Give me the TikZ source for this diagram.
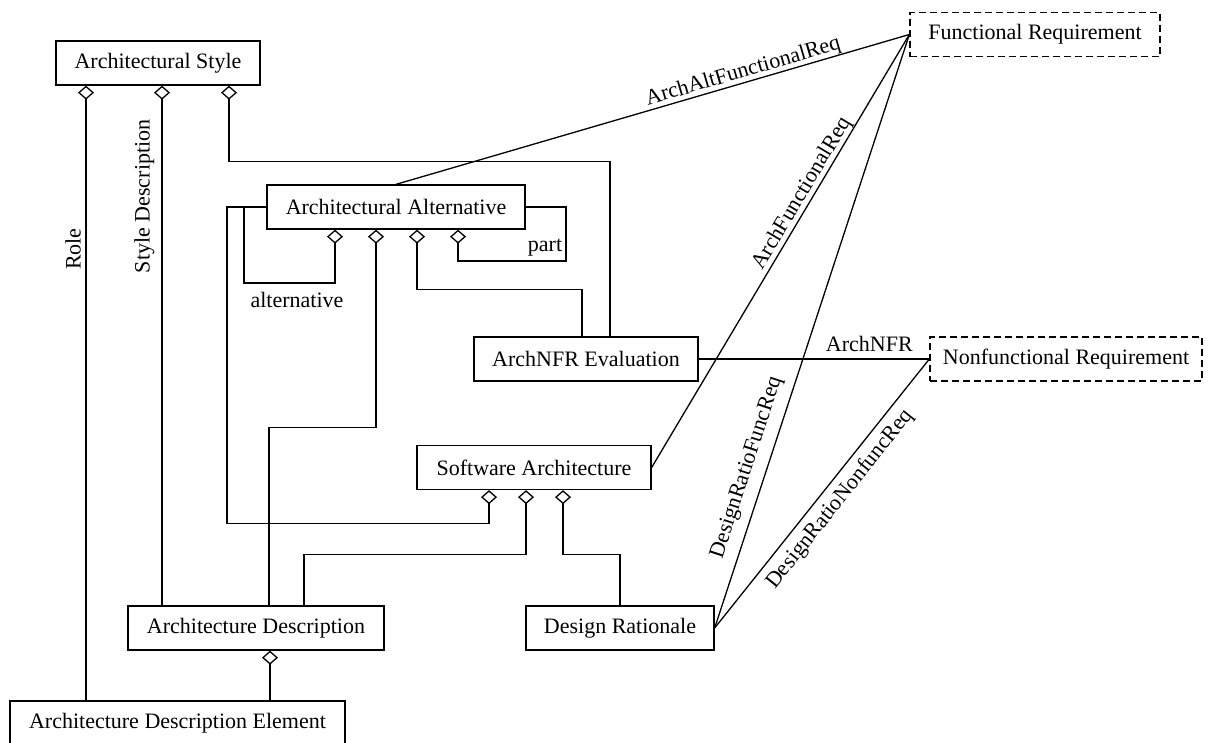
\documentclass[tikz,border=0pt]{standalone}
\usepackage{fontspec}
\setmainfont{Liberation Serif}
\usetikzlibrary{arrows.meta,calc}
\begin{document}
\begin{tikzpicture}[x=1pt,y=-1pt,
  font=\fontsize{22}{26}\selectfont,
  cls/.style={draw, line width=1.3pt, inner sep=0pt, minimum height=44pt},
  req/.style={cls, dash pattern=on 7pt off 4pt},
  conn/.style={line width=1.3pt},
  aggs/.style={conn, {Diamond[open,length=14pt,width=16pt]}-},
  lbl/.style={inner sep=0pt}]
\useasboundingbox (0,0) rectangle (1218,742);

% classes
\node[cls, minimum width=204pt] (AS)  at (158,63)    {Architectural Style};
\node[cls, minimum width=258pt] (AA)  at (396,207)   {Architectural Alternative};
\node[cls, minimum width=224pt] (ANE) at (586,359)   {ArchNFR Evaluation};
\node[cls, minimum width=234pt] (SA)  at (534,467.5) {Software Architecture};
\node[cls, minimum width=256pt] (AD)  at (256,628)   {Architecture Description};
\node[cls, minimum width=188pt] (DR)  at (620,628)   {Design Rationale};
\node[cls, minimum width=335pt] (ADE) at (177.5,723) {Architecture Description Element};
\node[req, minimum width=250pt] (FR)  at (1035,34.5) {Functional Requirement};
\node[req, minimum width=272pt] (NFR) at (1066,359)  {Nonfunctional Requirement};

% attachment points of the aggregation diamonds
\coordinate (asR) at ([xshift=-72pt]AS.south);
\coordinate (asD) at ([xshift=4pt]AS.south);
\coordinate (asA) at ([xshift=71pt]AS.south);
\coordinate (aa1) at ([xshift=-61pt]AA.south);
\coordinate (aa2) at ([xshift=-20pt]AA.south);
\coordinate (aa3) at ([xshift=21pt]AA.south);
\coordinate (aa4) at ([xshift=62pt]AA.south);
\coordinate (sa1) at ([xshift=-45pt]SA.south);
\coordinate (sa2) at ([xshift=-8pt]SA.south);
\coordinate (sa3) at ([xshift=29pt]SA.south);
\coordinate (ad1) at ([xshift=14pt]AD.south);

% Architectural Style aggregations
\draw[aggs] (asR) -- (asR |- ADE.north)
  node[lbl, pos=0.266, xshift=-4.5pt, rotate=90, anchor=south] {Role};
\draw[aggs] (asD) -- (asD |- AD.north)
  node[lbl, pos=0.213, xshift=-7pt, rotate=90, anchor=south] {Style Description};
\draw[aggs] (asA) -- ++(0,76) -| ([xshift=24pt]ANE.north);

% Architectural Alternative aggregations
\draw[aggs] (aa1) |- (244,283) node[lbl, pos=0.709, below=8.5pt] {alternative} |- (AA.west);
\draw[aggs] (aa2) -- ++(0,198) -| ([xshift=13pt]AD.north);
\draw[aggs] (aa3) -- ++(0,60) -| ([xshift=-4pt]ANE.north);
\draw[aggs] (aa4) |- (566,261) node[lbl, pos=0.903, above=4pt] {part} |- (AA.east);

% Software Architecture aggregations
\draw[aggs] (sa1) |- (227,523.5) |- (AA.west);
\draw[aggs] (sa2) -- ++(0,64.5) -| ([xshift=48pt]AD.north);
\draw[aggs] (sa3) -- ++(0,64.5) -| (DR.north);

% Architecture Description aggregation
\draw[aggs] (ad1) -- (ad1 |- ADE.north);

% requirement associations
\draw[conn] (AA.north) -- (FR.west)
  node[lbl, sloped, pos=0.682, above=0pt] {ArchAltFunctionalReq};
\draw[conn] (SA.east) -- (FR.west)
  node[lbl, sloped, pos=0.62, above=0pt] {ArchFunctionalReq};
\draw[conn] (ANE.east) -- (NFR.west)
  node[lbl, pos=0.74, above=7pt] {ArchNFR};
\draw[conn] (DR.east) -- (FR.west)
  node[lbl, sloped, pos=0.26, above=9pt] {DesignRatioFuncReq};
\draw[conn] (DR.east) -- (NFR.west)
  node[lbl, sloped, pos=0.52, below=7pt] {DesignRatioNonfuncReq};
\end{tikzpicture}
\end{document}
